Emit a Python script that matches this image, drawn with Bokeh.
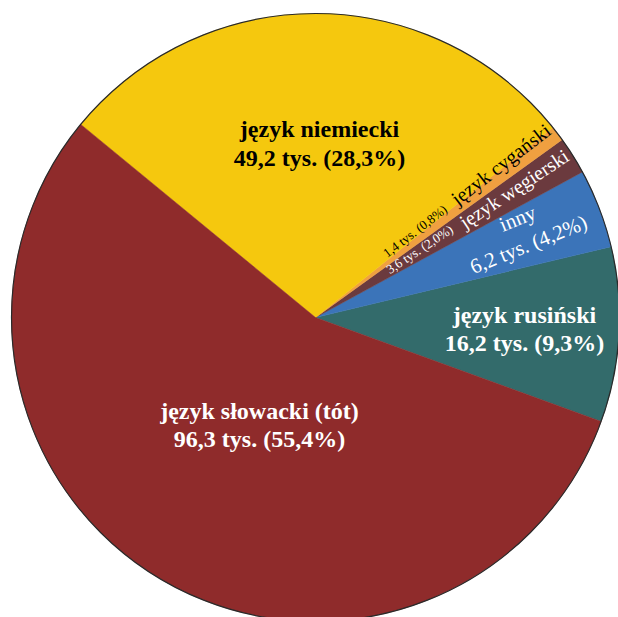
import math
from bokeh.plotting import figure
from bokeh.models import Range1d, ColumnDataSource
from bokeh.core.properties import value
from bokeh.embed import file_html
from bokeh.resources import INLINE

# ---- data (counter-clockwise order starting at the słowacki/rusiński edge) ----
languages = ["język rusiński", "inny", "język węgierski", "język cygański",
             "język niemiecki", "język słowacki (tót)"]
thousands = [16.2, 6.2, 3.6, 1.4, 49.2, 96.3]
percents = [9.3, 4.2, 2.0, 0.8, 28.3, 55.4]
colors = ["#336b6b", "#3b74b9", "#6b3a3e", "#f0a040", "#f5c80e", "#8f2b2b"]

def fmt(v):
    return f"{v:.1f}".replace(".", ",")

# ---- layout ----
W, H = 618, 617
CX, CY, R = 315, 300, 304
START = math.radians(-20)

p = figure(width=W, height=H, output_backend="svg", toolbar_location=None,
           x_range=Range1d(0, W), y_range=Range1d(0, H), min_border=0)
p.axis.visible = False
p.grid.visible = False
p.outline_line_color = None
p.background_fill_color = "white"
p.border_fill_color = "white"

total = sum(percents)
starts, ends = [], []
a = START
for pc in percents:
    starts.append(a)
    a += 2 * math.pi * pc / total
    ends.append(a)

src = ColumnDataSource(dict(x=[CX] * len(percents), y=[CY] * len(percents),
                            start=starts, end=ends, color=colors))
p.wedge(x="x", y="y", radius=R, start_angle="start", end_angle="end",
        fill_color="color", line_color="color", line_width=0.5, source=src)
p.circle(x=[CX], y=[CY], radius=R, fill_color=None, line_color="#2a2a2a", line_width=1.2)

FONT = value("Liberation Serif")

def sy(y):  # screen y -> data y
    return H - y

def sx(x):
    return x

# big bold labels (two lines)
big = [
    (4, "black", 319, 128, 157),   # niemiecki
    (5, "white", 259, 410, 438),   # słowacki
    (0, "white", 524, 314, 342),   # rusiński
]
for i, col, x, y1, y2 in big:
    p.text(x=[sx(x), sx(x)], y=[sy(y1), sy(y2)],
           text=[languages[i], f"{fmt(thousands[i])} tys. ({fmt(percents[i])}%)"],
           text_font=FONT, text_font_style="bold", text_font_size="24px",
           text_color=col, text_align="center", text_baseline="middle")

# inny (rotated two lines)
ang_inny = math.radians(22)
p.text(x=[sx(517), sx(528)], y=[sy(218), sy(244)],
       text=[languages[1], f"{fmt(thousands[1])} tys. ({fmt(percents[1])}%)"],
       angle=ang_inny, text_font=FONT, text_font_size="21px",
       text_color="white", text_align="center", text_baseline="middle")

# small rotated labels
small = [
    (3, "black", 384, 254, 453, 200, 37.5),
    (2, "white", 387, 270, 461, 223, 33.5),
]
for i, col, x1, y1, x2, y2, deg in small:
    ang = math.radians(deg)
    p.text(x=[sx(x1)], y=[sy(y1)],
           text=[f"{fmt(thousands[i])} tys. ({fmt(percents[i])}%)"],
           angle=ang, text_font=FONT, text_font_size="13px",
           text_color=col, text_align="left", text_baseline="alphabetic")
    p.text(x=[sx(x2)], y=[sy(y2)], text=[languages[i]],
           angle=ang, text_font=FONT, text_font_size="20px",
           text_color=col, text_align="left", text_baseline="alphabetic")

open("out.html", "w").write(file_html(p, INLINE))
